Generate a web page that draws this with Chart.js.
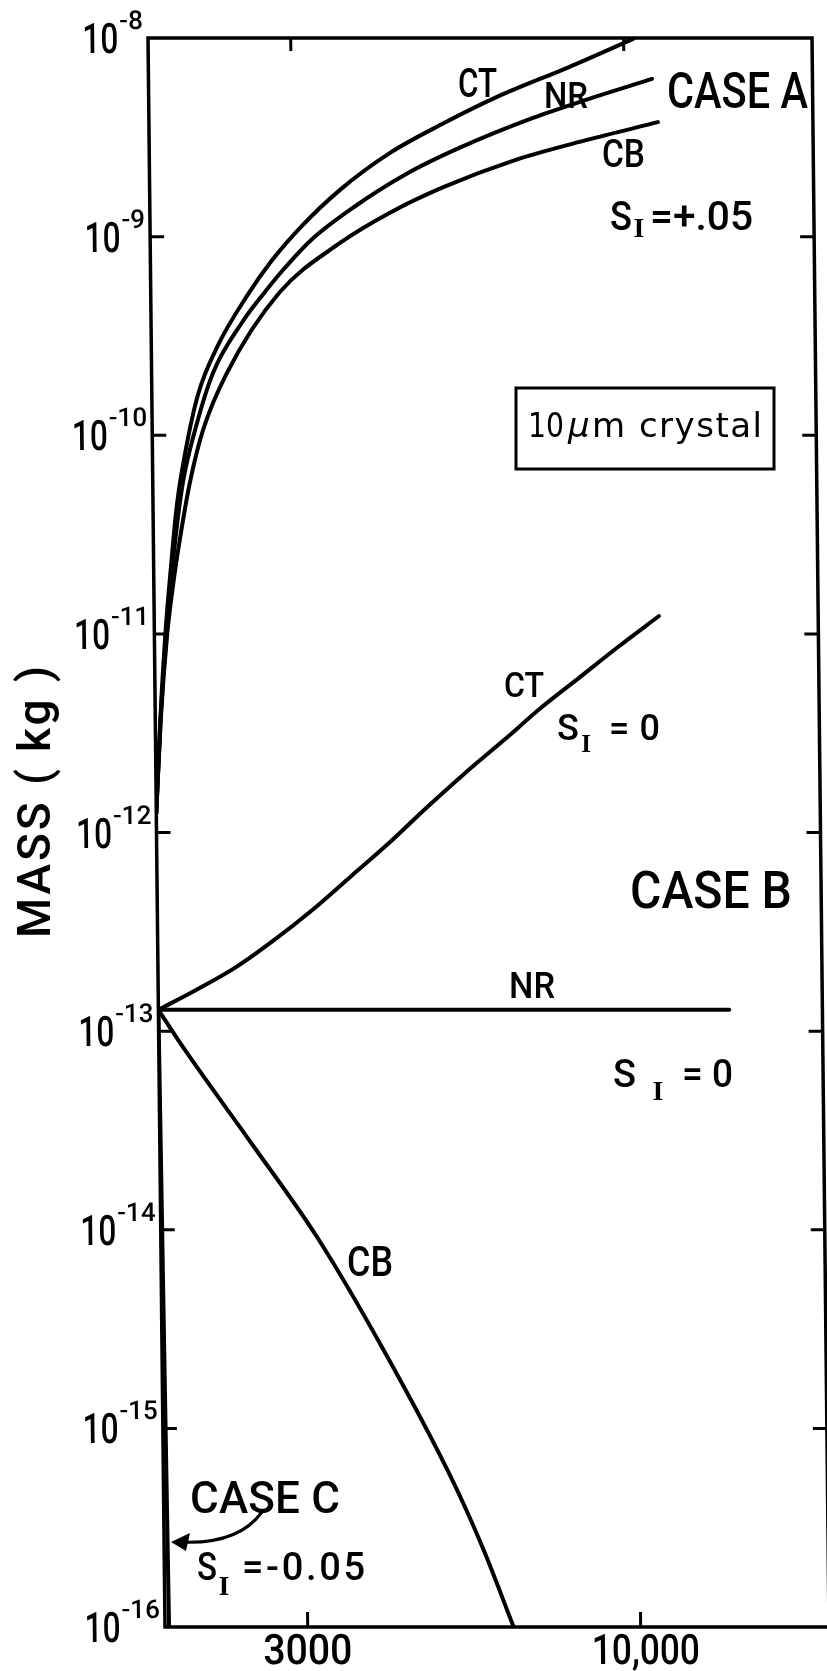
<!DOCTYPE html>
<html>
<head>
<meta charset="utf-8">
<title>Crystal mass vs time</title>
<script src="https://cdn.jsdelivr.net/npm/chart.js@4.4.0/dist/chart.umd.min.js"></script>
<style>
    html, body { margin: 0; padding: 0; background: #fff; }
    #wrap { width: 827px; height: 1671px; }
</style>
</head>
<body>
<div id="wrap"><canvas id="massChart" width="827" height="1671"></canvas></div>
<script>
// Time (s) and mass (kg)

// Case A, S_I = +.05
const caseA_CT_t = [0, 105, 231, 357, 505, 690, 970, 1390, 2040, 2557, 3174, 4003, 5062, 6204, 7324, 8844, 10200];
const caseA_CT_m = [1.25e-12, 3.7e-12, 1.0e-11, 2.1e-11, 4.5e-11, 8.2e-11, 1.6e-10, 2.8e-10, 5.1e-10, 7.6e-10, 1.12e-9, 1.72e-9, 2.64e-9, 3.73e-9, 5.05e-9, 7.14e-9, 9.9e-9];
const caseA_NR_t = [0, 110, 255, 440, 635, 900, 1291, 1934, 2317, 2785, 3380, 4293, 5436, 6555, 8075, 9193, 10587];
const caseA_NR_m = [1.25e-12, 3.7e-12, 1.0e-11, 2.7e-11, 5.8e-11, 1.06e-10, 2.06e-10, 3.76e-10, 4.97e-10, 6.79e-10, 9.6e-10, 1.41e-9, 2.09e-9, 2.82e-9, 3.96e-9, 4.88e-9, 6.22e-9];
const caseA_CB_t = [0, 115, 270, 402, 561, 782, 1068, 1585, 2697, 3990, 5047, 6189, 7688, 9184, 10702];
const caseA_CB_m = [1.25e-12, 3.7e-12, 1.0e-11, 1.75e-11, 3.03e-11, 5.8e-11, 1.06e-10, 2.06e-10, 5.2e-10, 9.29e-10, 1.32e-9, 1.78e-9, 2.43e-9, 3.06e-9, 3.77e-9];

// Case B, S_I = 0
const caseB_CT_t = [0, 816, 1642, 2445, 3252, 4057, 4885, 5693, 6498, 7326, 8131, 8938, 9744, 10612];
const caseB_CT_m = [1.28e-13, 1.62e-13, 2.1e-13, 2.87e-13, 4.06e-13, 5.96e-13, 8.85e-13, 1.34e-12, 1.99e-12, 2.92e-12, 4.28e-12, 6.06e-12, 8.59e-12, 1.23e-11];
const caseB_NR_t = [0, 12000];
const caseB_NR_m = [1.28e-13, 1.28e-13];
const caseB_CB_t = [0, 509, 1896, 3284, 4646, 6025, 6702, 7330];
const caseB_CB_m = [1.28e-13, 8.3e-14, 2.79e-14, 9.19e-15, 2.51e-15, 5.81e-16, 2.49e-16, 1.0e-16];

// Case C, S_I = -0.05
const caseC_t = [0, 40, 85];
const caseC_m = [1.28e-13, 4e-15, 1e-16];

// Axes
const xMin = 0;
const xMax = 13960;
const xTickValues = [3000, 10000];
const xTickLabels = ['3000', '10,000'];
const yExponents = [-8, -9, -10, -11, -12, -13, -14, -15, -16];

// the scanned figure leans slightly: the left axis drifts ~17px right top to bottom
const SLANT = 0.0107;
const SLANT_ORIGIN_Y = 972;

const FONT = 'Roboto, "DejaVu Sans", sans-serif';
const WEIGHT = '500 ';

function toPoints(t, m) {
    return t.map((v, i) => ({ x: v, y: m[i] }));
}

function curve(t, m) {
    return {
        data: toPoints(t, m),
        borderColor: '#000',
        borderWidth: 4,
        pointRadius: 0,
        fill: false,
        cubicInterpolationMode: 'monotone',
        borderCapStyle: 'round'
    };
}

// Draw text from its left edge, squeezed or spaced to a given width
function fitText(ctx, text, left, baseline, size, width, family) {
    ctx.font = WEIGHT + size + 'px ' + (family || FONT);
    ctx.textAlign = 'left';
    ctx.letterSpacing = '0px';
    const w = ctx.measureText(text).width;
    if (width && w < width && text.length > 1) {
        ctx.letterSpacing = ((width - w) / (text.length - 1)) + 'px';
        ctx.fillText(text, left, baseline);
        ctx.letterSpacing = '0px';
    } else if (width) {
        ctx.fillText(text, left, baseline, width);
    } else {
        ctx.fillText(text, left, baseline);
    }
}

// "S" with a subscript serif "I", then the rest of the label
function drawSI(ctx, o) {
    fitText(ctx, 'S', o.sx, o.base, o.size, o.sw);
    ctx.font = 'bold ' + o.subSize + 'px "Liberation Serif", "DejaVu Serif", serif';
    ctx.textAlign = 'center';
    ctx.fillText('I', o.ix, o.ibase);
    fitText(ctx, o.rest, o.rx, o.base, o.size, o.rw);
}

const figurePlugin = {
    id: 'figure',
    beforeDraw(chart) {
        // lean the whole plot like the original scan
        chart.ctx.save();
        chart.ctx.transform(1, 0, SLANT, 1, -SLANT * SLANT_ORIGIN_Y, 0);
    },
    afterDraw(chart) {
        const ctx = chart.ctx;
        const a = chart.chartArea;
        const xs = chart.scales.x;
        const ys = chart.scales.y;

        ctx.save();
        ctx.strokeStyle = '#000';
        ctx.fillStyle = '#000';
        ctx.lineCap = 'butt';

        // frame
        ctx.lineWidth = 3.5;
        ctx.strokeRect(a.left, a.top, a.right - a.left, a.bottom - a.top);

        // inward ticks and decade labels
        ctx.lineWidth = 3;
        yExponents.forEach((e, i) => {
            const y = ys.getPixelForValue(Math.pow(10, e));
            if (i > 0 && i < yExponents.length - 1) {
                ctx.beginPath();
                ctx.moveTo(a.left, y); ctx.lineTo(a.left + 14, y);
                ctx.moveTo(a.right - 14, y); ctx.lineTo(a.right, y);
                ctx.stroke();
            }
            const exp = String(e);
            ctx.font = WEIGHT + '26px ' + FONT;
            ctx.textAlign = 'right';
            const expRight = a.left - 5;
            const expW = ctx.measureText(exp).width;
            ctx.fillText(exp, expRight, y - 9);
            ctx.font = WEIGHT + '42px ' + FONT;
            ctx.fillText('10', expRight - expW - 1, y + 15, 36);
        });

        xTickValues.forEach((v, i) => {
            const x = xs.getPixelForValue(v);
            ctx.beginPath();
            ctx.moveTo(x, a.bottom); ctx.lineTo(x, a.bottom - 15);
            ctx.moveTo(x, a.top); ctx.lineTo(x, a.top + 13);
            ctx.stroke();
            ctx.font = WEIGHT + '42px ' + FONT;
            ctx.textAlign = 'center';
            const w = i === 0 ? 89 : 108;
            ctx.fillText(xTickLabels[i], x + (i === 0 ? 0 : 5), a.bottom + 37, w);
        });
        ctx.restore();
        ctx.restore(); // end of the lean started in beforeDraw

        ctx.save();
        ctx.strokeStyle = '#000';
        ctx.fillStyle = '#000';

        // y axis title
        ctx.save();
        ctx.translate(50, 802);
        ctx.rotate(-Math.PI / 2);
        fitText(ctx, 'MASS ( kg )', -136, 0, 46, 272);
        ctx.restore();

        // case A labels
        fitText(ctx, 'CT', 458, 97, 41, 39);
        fitText(ctx, 'NR', 544, 108, 37, 44);
        fitText(ctx, 'CB', 602, 167, 38, 43);
        fitText(ctx, 'CASE A', 667, 108, 50, 141);
        drawSI(ctx, { sx: 610, base: 230, size: 41, sw: 22, ix: 639, ibase: 237, subSize: 28, rest: '=+.05', rx: 650, rw: 103 });

        // crystal size box
        ctx.lineWidth = 3;
        ctx.strokeRect(516, 388, 258, 81);
        fitText(ctx, '10', 528, 437, 34, 36, '"DejaVu Sans", sans-serif');
        ctx.font = 'italic 34px "DejaVu Sans", sans-serif';
        ctx.textAlign = 'left';
        ctx.fillText('\u03bc', 568, 437);
        fitText(ctx, 'm crystal', 592, 437, 34, 170, '"DejaVu Sans", sans-serif');

        // case B labels
        fitText(ctx, 'CT', 504, 697, 35, 40);
        drawSI(ctx, { sx: 557, base: 740, size: 36, sw: 23, ix: 586, ibase: 752, subSize: 25, rest: '= 0', rx: 609, rw: 51 });
        fitText(ctx, 'CASE B', 630, 908, 52, 162);
        fitText(ctx, 'NR', 509, 998, 37, 46);
        drawSI(ctx, { sx: 613, base: 1087, size: 38, sw: 27, ix: 658, ibase: 1100, subSize: 28, rest: '= 0', rx: 682, rw: 51 });
        fitText(ctx, 'CB', 347, 1276, 42, 46);

        // case C label and arrow
        fitText(ctx, 'CASE C', 190, 1513, 44, 150);
        drawSI(ctx, { sx: 197, base: 1580, size: 38, sw: 20, ix: 224, ibase: 1595, subSize: 28, rest: '=-0.05', rx: 242, rw: 123 });
        ctx.lineWidth = 3;
        ctx.beginPath();
        ctx.moveTo(262, 1512);
        ctx.quadraticCurveTo(238, 1545, 180, 1542);
        ctx.stroke();
        ctx.beginPath();
        ctx.moveTo(171, 1542);
        ctx.lineTo(190, 1533);
        ctx.lineTo(186, 1551);
        ctx.closePath();
        ctx.fill();

        ctx.restore();
    }
};

const ctx = document.getElementById('massChart').getContext('2d');
new Chart(ctx, {
    type: 'line',
    data: {
        datasets: [
            curve(caseA_CT_t, caseA_CT_m),
            curve(caseA_NR_t, caseA_NR_m),
            curve(caseA_CB_t, caseA_CB_m),
            curve(caseB_CT_t, caseB_CT_m),
            curve(caseB_NR_t, caseB_NR_m),
            curve(caseB_CB_t, caseB_CB_m),
            curve(caseC_t, caseC_m)
        ]
    },
    options: {
        responsive: false,
        animation: false,
        devicePixelRatio: 1,
        layout: {
            padding: { left: 158, right: 5, top: 38, bottom: 44 }
        },
        plugins: {
            legend: { display: false },
            tooltip: { enabled: false }
        },
        scales: {
            x: {
                type: 'linear',
                min: xMin,
                max: xMax,
                display: false
            },
            y: {
                type: 'logarithmic',
                min: 1e-16,
                max: 1e-8,
                display: false
            }
        }
    },
    plugins: [figurePlugin]
});
</script>
</body>
</html>
